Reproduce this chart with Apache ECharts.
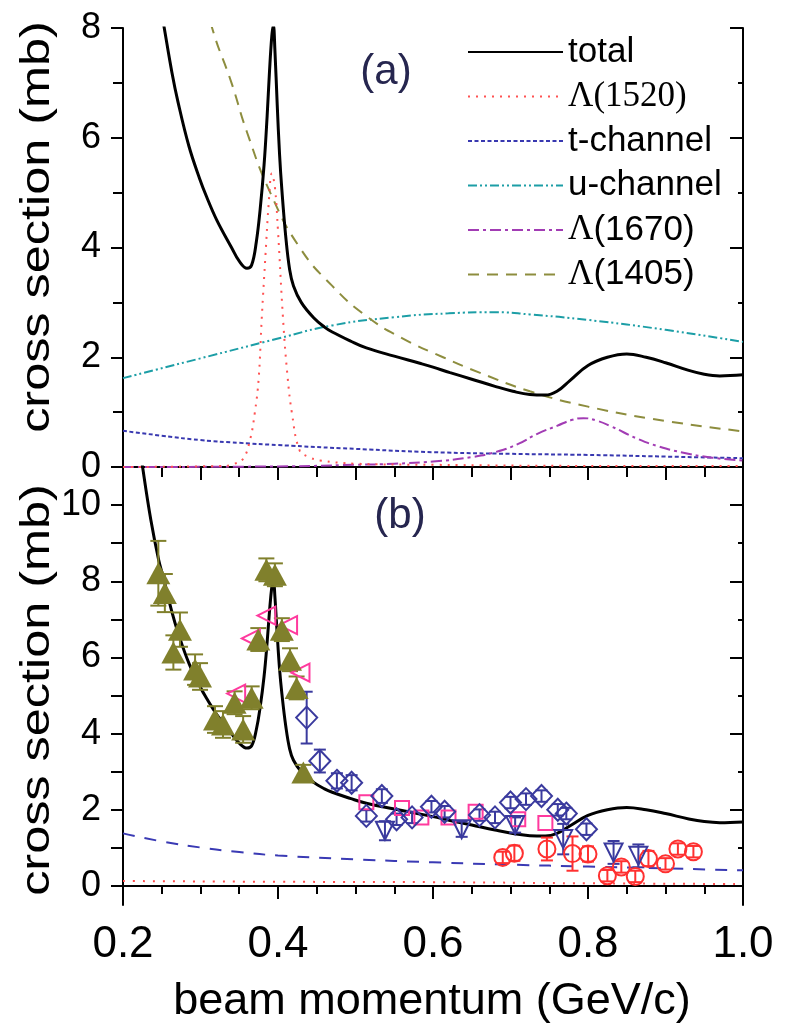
<!DOCTYPE html>
<html>
<head>
<meta charset="utf-8">
<script src="https://cdn.jsdelivr.net/npm/echarts@6/dist/echarts.min.js"></script>
<style>html,body{margin:0;padding:0;background:#fff}#c{width:787px;height:1035px}</style>
</head>
<body>
<div id="c"></div>
<script>
// ---------- panel (a) curves ----------
const totalX = [0.2,0.208,0.215,0.226,0.236,0.246,0.252,0.263,0.271,0.285,0.299,0.308,0.321,0.34,0.35,0.36,0.366,0.372,0.377,0.382,0.386,0.389,0.392,0.394,0.396,0.399,0.402,0.405,0.41,0.415,0.42,0.43,0.446,0.46,0.47,0.493,0.514,0.55,0.583,0.6,0.622,0.65,0.68,0.703,0.725,0.745,0.76,0.777,0.8,0.825,0.85,0.875,0.9,0.93,0.95,0.97,1.0];
const totalY = [15.5,13.8,12.5,10.9,9.6,8.56,8.1,7.2,6.65,5.85,5.25,4.92,4.5,4.0,3.75,3.62,3.68,4.1,4.7,5.5,6.4,7.2,7.85,8.05,7.6,6.6,5.7,5.05,4.2,3.6,3.3,3.0,2.72,2.55,2.46,2.3,2.17,2.02,1.89,1.82,1.72,1.6,1.47,1.38,1.32,1.31,1.38,1.58,1.85,2.0,2.06,2.0,1.9,1.76,1.69,1.66,1.68];
const l1520X = [0.2,0.33,0.342,0.355,0.364,0.37,0.375,0.379,0.384,0.388,0.392,0.396,0.4,0.4065,0.412,0.418,0.428,0.44,0.454,0.5,0.6,0.8,1.0];
const l1520Y = [0.0,0.02,0.05,0.15,0.5,0.98,1.6,2.7,3.9,4.8,5.35,5.1,4.3,2.7,1.7,0.98,0.3,0.18,0.12,0.06,0.04,0.02,0.02];
const tchX = [0.2,0.25,0.3,0.35,0.4,0.5,0.6,0.7,0.8,0.9,1.0];
const tchY = [0.66,0.57,0.49,0.44,0.40,0.33,0.27,0.24,0.22,0.19,0.16];
const uchX = [0.2,0.3,0.4,0.47,0.55,0.62,0.68,0.725,0.8,0.9,1.0];
const uchY = [1.62,1.98,2.34,2.58,2.73,2.8,2.82,2.78,2.68,2.5,2.28];
const l1670X = [0.2,0.4,0.5,0.55,0.6,0.65,0.68,0.71,0.734,0.76,0.78,0.794,0.81,0.83,0.863,0.89,0.92,0.96,1.0];
const l1670Y = [0.0,0.01,0.04,0.06,0.1,0.18,0.27,0.42,0.6,0.75,0.86,0.89,0.85,0.74,0.52,0.38,0.27,0.17,0.12];
const l1405X = [0.29,0.3,0.315,0.34,0.36,0.39,0.428,0.47,0.514,0.56,0.613,0.66,0.725,0.8,0.9,1.0];
const l1405Y = [9.8,8.9,8.0,7.0,6.1,5.0,4.0,3.3,2.75,2.35,2.0,1.72,1.38,1.1,0.84,0.65];

// ---------- panel (b) curves ----------
const bDashX = [0.2,0.25,0.3,0.35,0.4,0.5,0.6,0.7,0.8,0.9,1.0];
const bDashY = [1.38,1.17,1.01,0.89,0.8,0.7,0.62,0.56,0.51,0.46,0.41];
const bDotX = [0.2,0.4,0.6,0.8,1.0];
const bDotY = [0.13,0.11,0.1,0.07,0.05];

// ---------- panel (b) data points ----------
const triX = [0.2456,0.254,0.265,0.2735,0.293,0.2994,0.3187,0.329,0.344,0.355,0.366,0.3746,0.385,0.396,0.405,0.4155,0.424,0.4327];
const triY = [8.21,7.69,6.13,6.73,5.68,5.5,4.37,4.24,4.81,4.11,4.94,6.47,8.30,8.17,6.73,5.94,5.2,2.98];
const triE = [0.85,0.5,0.45,0.45,0.4,0.35,0.35,0.35,0.3,0.35,0.3,0.3,0.3,0.3,0.3,0.3,0.3,0.2];
const ltX = [0.346,0.365,0.385,0.413,0.429];
const ltY = [5.05,6.5,7.1,6.85,5.6];
const sqX = [0.514,0.56,0.585,0.62,0.655,0.71,0.745];
const sqY = [2.2,2.05,1.8,1.8,1.95,1.75,1.65];
const dmX = [0.437,0.454,0.476,0.495,0.514,0.534,0.553,0.573,0.598,0.615,0.66,0.68,0.70,0.72,0.74,0.761,0.772,0.798];
const dmY = [4.42,3.28,2.76,2.71,1.84,2.36,1.75,1.8,2.08,1.95,1.86,1.8,2.19,2.28,2.36,2.0,1.9,1.49];
const dmE = [0.68,0.3,0.2,0.2,0.15,0.18,0.15,0.15,0.15,0.15,0.15,0.15,0.15,0.15,0.15,0.15,0.15,0.15];
const dtX = [0.538,0.637,0.706,0.768,0.833,0.865];
const dtY = [1.45,1.49,1.6,1.23,0.88,0.79];
const dtE = [0.25,0.2,0.2,0.4,0.3,0.3];
const ciX = [0.69,0.705,0.747,0.78,0.80,0.825,0.843,0.861,0.878,0.90,0.916,0.936];
const ciY = [0.75,0.86,0.97,0.85,0.84,0.27,0.5,0.25,0.72,0.58,0.97,0.9];
const ciE = [0.15,0.2,0.3,0.45,0.2,0.15,0.15,0.15,0.2,0.15,0.15,0.15];

// ---------- tick labels ----------
const xTickLabels = [0.2,0.4,0.6,0.8,1.0];
const yTopLabels = [0,2,4,6,8];
const yBotLabels = [0,2,4,6,8,10];
const yBotMinor = [1,3,5,7,9];

const pairs = (xs, ys) => xs.map((x, i) => [x, ys[i]]);
const triples = (xs, ys, es) => xs.map((x, i) => [x, ys[i], es[i]]);

const FONT = 'Liberation Sans';
const OLIVE = '#80802c', PINK = '#ff3a9e', BLUE = '#3a3a9e', RED = '#ff3030';

function errRender(cap, color, lw) {
  return function (params, api) {
    const x = api.value(0), y = api.value(1), e = api.value(2);
    const t = api.coord([x, y + e]), b = api.coord([x, y - e]);
    const st = { stroke: color, lineWidth: lw };
    return { type: 'group', children: [
      { type: 'line', shape: { x1: t[0], y1: t[1], x2: b[0], y2: b[1] }, style: st },
      { type: 'line', shape: { x1: t[0] - cap, y1: t[1], x2: t[0] + cap, y2: t[1] }, style: st },
      { type: 'line', shape: { x1: b[0] - cap, y1: b[1], x2: b[0] + cap, y2: b[1] }, style: st }
    ]};
  };
}

function lineSeries(name, xs, ys, color, width, type, xi, yi, smooth, z) {
  return { name, type: 'line', xAxisIndex: xi, yAxisIndex: yi, data: pairs(xs, ys),
    symbol: 'none', showSymbol: false, smooth: smooth, clip: true, z: z || 2,
    lineStyle: { color, width, type }, itemStyle: { color } };
}

const axisLineStyle = { lineStyle: { color: '#000', width: 2 } };

const xBase = { type: 'value', min: 0.2, max: 1.0, splitLine: { show: false }, axisLine: axisLineStyle };

const option = {
  animation: false,
  backgroundColor: '#fff',
  grid: [
    { left: 123, top: 28, width: 620, height: 439 },
    { left: 123, top: 467, width: 620, height: 438 }
  ],
  xAxis: [
    Object.assign({}, xBase, { gridIndex: 0, position: 'bottom', interval: 0.1,
      axisTick: { length: 12, inside: false, lineStyle: { color: '#000', width: 2 } },
      minorTick: { show: true, splitNumber: 2, length: 10, lineStyle: { color: '#000', width: 2 } },
      axisLabel: { show: false } }),
    Object.assign({}, xBase, { gridIndex: 0, position: 'top', interval: 0.1,
      axisTick: { length: 13, inside: true, lineStyle: { color: '#000', width: 2 } },
      minorTick: { show: true, splitNumber: 2, length: 5, lineStyle: { color: '#000', width: 2 } },
      axisLabel: { show: false } }),
    Object.assign({}, xBase, { gridIndex: 1, position: 'bottom', interval: 0.2,
      axisTick: { length: 13, inside: false, lineStyle: { color: '#000', width: 2 } },
      minorTick: { show: true, splitNumber: 4, length: 8, lineStyle: { color: '#000', width: 2 } },
      axisLabel: { show: true, customValues: xTickLabels, formatter: v => v.toFixed(1), margin: 18,
        fontSize: 44, fontFamily: FONT, color: '#000' } }),
    Object.assign({}, xBase, { gridIndex: 1, position: 'top', interval: 0.2,
      axisTick: { show: false }, axisLabel: { show: false } })
  ],
  yAxis: [
    { type: 'value', gridIndex: 0, position: 'left', min: 0, max: 8, interval: 2,
      splitLine: { show: false }, axisLine: axisLineStyle,
      axisTick: { length: 12, inside: false, lineStyle: { color: '#000', width: 2 } },
      minorTick: { show: true, splitNumber: 2, length: 10, lineStyle: { color: '#000', width: 2 } },
      axisLabel: { customValues: yTopLabels, margin: 22, fontSize: 36, fontFamily: FONT, color: '#000' } },
    { type: 'value', gridIndex: 0, position: 'right', min: 0, max: 8, interval: 2,
      splitLine: { show: false }, axisLine: axisLineStyle,
      axisTick: { length: 13, inside: true, lineStyle: { color: '#000', width: 2 } },
      minorTick: { show: true, splitNumber: 2, length: 5, lineStyle: { color: '#000', width: 2 } },
      axisLabel: { show: false } },
    { type: 'value', gridIndex: 1, position: 'left', min: -0.5, max: 11,
      splitLine: { show: false }, axisLine: axisLineStyle,
      axisTick: { customValues: yBotLabels.concat(yBotMinor), length: 12, inside: false, lineStyle: { color: '#000', width: 2 } },
      axisLabel: { customValues: yBotLabels, margin: 22, fontSize: 36, fontFamily: FONT, color: '#000' } },
    { type: 'value', gridIndex: 1, position: 'right', min: -0.5, max: 11,
      splitLine: { show: false }, axisLine: axisLineStyle,
      axisTick: { customValues: yBotLabels, length: 13, inside: true, lineStyle: { color: '#000', width: 2 } },
      axisLabel: { show: false } },
    { type: 'value', gridIndex: 1, position: 'right', min: -0.5, max: 11,
      splitLine: { show: false }, axisLine: { show: false },
      axisTick: { customValues: yBotMinor, length: 5, inside: true, lineStyle: { color: '#000', width: 2 } },
      axisLabel: { show: false } }
  ],
  legend: {
    orient: 'vertical', left: 462, top: 27, itemWidth: 95, itemHeight: 14, itemGap: 4.5,
    data: ['total', 'Λ(1520)', 't-channel', 'u-channel', 'Λ(1670)', 'Λ(1405)'],
    itemStyle: { opacity: 0 },
    formatter: function (name) {
      if (name === 'Λ(1520)') return '{s|' + name + '}';
      if (name.charAt(0) === 'Λ') return '{s|Λ}{n|' + name.slice(1) + '}';
      return '{n|' + name + '}';
    },
    textStyle: { fontSize: 35, fontFamily: FONT, color: '#000', lineHeight: 40,
      rich: {
        n: { fontSize: 35, fontFamily: FONT, color: '#000', lineHeight: 40 },
        s: { fontSize: 35, fontFamily: 'Liberation Serif', color: '#000', lineHeight: 40 }
      } },
    selectedMode: false
  },
  graphic: [
    { type: 'text', x: 386, y: 72, style: { text: '(a)', font: '42px "Liberation Sans"', fill: '#26264f', align: 'center', verticalAlign: 'middle' } },
    { type: 'text', x: 400, y: 516, style: { text: '(b)', font: '42px "Liberation Sans"', fill: '#26264f', align: 'center', verticalAlign: 'middle' } },
    { type: 'text', x: 38, y: 227, rotation: Math.PI / 2, scaleX: 1.26, style: { text: 'cross section (mb)', font: '40px "Liberation Sans"', fill: '#000', align: 'center', verticalAlign: 'middle' } },
    { type: 'text', x: 38, y: 690, rotation: Math.PI / 2, scaleX: 1.26, style: { text: 'cross section (mb)', font: '40px "Liberation Sans"', fill: '#000', align: 'center', verticalAlign: 'middle' } },
    { type: 'text', x: 432, y: 1002, style: { text: 'beam momentum (GeV/c)', font: '45px "Liberation Sans"', fill: '#000', align: 'center', verticalAlign: 'middle' } }
  ],
  series: [
    // panel (a)
    lineSeries('u-channel', uchX, uchY, '#1c9ea6', 2, [9, 3, 2, 3, 2, 3], 0, 0, 0.5),
    lineSeries('t-channel', tchX, tchY, '#3838b0', 2, [4, 2.5], 0, 0, 0.5),
    lineSeries('Λ(1670)', l1670X, l1670Y, '#a23cb4', 2, [11, 4, 3, 4], 0, 0, 0.5),
    lineSeries('Λ(1405)', l1405X, l1405Y, '#8d8d3e', 2, [11, 8], 0, 0, 0.5),
    lineSeries('Λ(1520)', l1520X, l1520Y, '#ff5252', 2, [2, 6], 0, 0, 0.4),
    lineSeries('total', totalX, totalY, '#000', 3, 'solid', 0, 0, 0.4, 3),
    // panel (b)
    lineSeries('b-dash', bDashX, bDashY, '#3a3ab4', 2, [12, 10], 2, 2, 0.5),
    lineSeries('b-dot', bDotX, bDotY, '#ff4d4d', 2, [2, 8], 2, 2, 0.5),
    lineSeries('b-total', totalX, totalY, '#000', 3, 'solid', 2, 2, 0.4),
    { name: 'err-tri', type: 'custom', xAxisIndex: 2, yAxisIndex: 2, clip: true, data: triples(triX, triY, triE), encode: { x: 0, y: 1 }, renderItem: errRender(8, OLIVE, 2), z: 3 },
    { name: 'err-dm', type: 'custom', xAxisIndex: 2, yAxisIndex: 2, clip: true, data: triples(dmX, dmY, dmE), encode: { x: 0, y: 1 }, renderItem: errRender(6, BLUE, 2), z: 3 },
    { name: 'err-dt', type: 'custom', xAxisIndex: 2, yAxisIndex: 2, clip: true, data: triples(dtX, dtY, dtE), encode: { x: 0, y: 1 }, renderItem: errRender(6, BLUE, 2), z: 3 },
    { name: 'err-ci', type: 'custom', xAxisIndex: 2, yAxisIndex: 2, clip: true, data: triples(ciX, ciY, ciE), encode: { x: 0, y: 1 }, renderItem: errRender(6, RED, 2), z: 3 },
    { name: 'pts-ci', type: 'scatter', xAxisIndex: 2, yAxisIndex: 2, data: pairs(ciX, ciY), symbol: 'circle', symbolSize: 17,
      itemStyle: { color: 'rgba(255,255,255,0)', borderColor: RED, borderWidth: 2, opacity: 1 }, z: 4 },
    { name: 'pts-sq', type: 'scatter', xAxisIndex: 2, yAxisIndex: 2, data: pairs(sqX, sqY), symbol: 'rect', symbolSize: 14,
      itemStyle: { color: 'rgba(255,255,255,0)', borderColor: PINK, borderWidth: 2, opacity: 1 }, z: 4 },
    { name: 'pts-dt', type: 'scatter', xAxisIndex: 2, yAxisIndex: 2, data: pairs(dtX, dtY), symbol: 'triangle', symbolRotate: 180, symbolSize: 18,
      itemStyle: { color: 'rgba(255,255,255,0)', borderColor: BLUE, borderWidth: 2, opacity: 1 }, z: 4 },
    { name: 'pts-dm', type: 'scatter', xAxisIndex: 2, yAxisIndex: 2, data: pairs(dmX, dmY), symbol: 'diamond', symbolSize: [21, 22],
      itemStyle: { color: 'rgba(255,255,255,0)', borderColor: BLUE, borderWidth: 2, opacity: 1 }, z: 4 },
    { name: 'pts-lt', type: 'scatter', xAxisIndex: 2, yAxisIndex: 2, data: pairs(ltX, ltY), symbol: 'triangle', symbolRotate: 90, symbolSize: 18,
      itemStyle: { color: 'rgba(255,255,255,0)', borderColor: PINK, borderWidth: 2, opacity: 1 }, z: 4 },
    { name: 'pts-tri', type: 'scatter', xAxisIndex: 2, yAxisIndex: 2, data: pairs(triX, triY), symbol: 'triangle', symbolSize: [24, 22],
      itemStyle: { color: OLIVE, opacity: 1 }, z: 5 }
  ]
};

const chart = echarts.init(document.getElementById('c'), null, { renderer: 'canvas', width: 787, height: 1035 });
chart.setOption(option);
</script>
</body>
</html>
